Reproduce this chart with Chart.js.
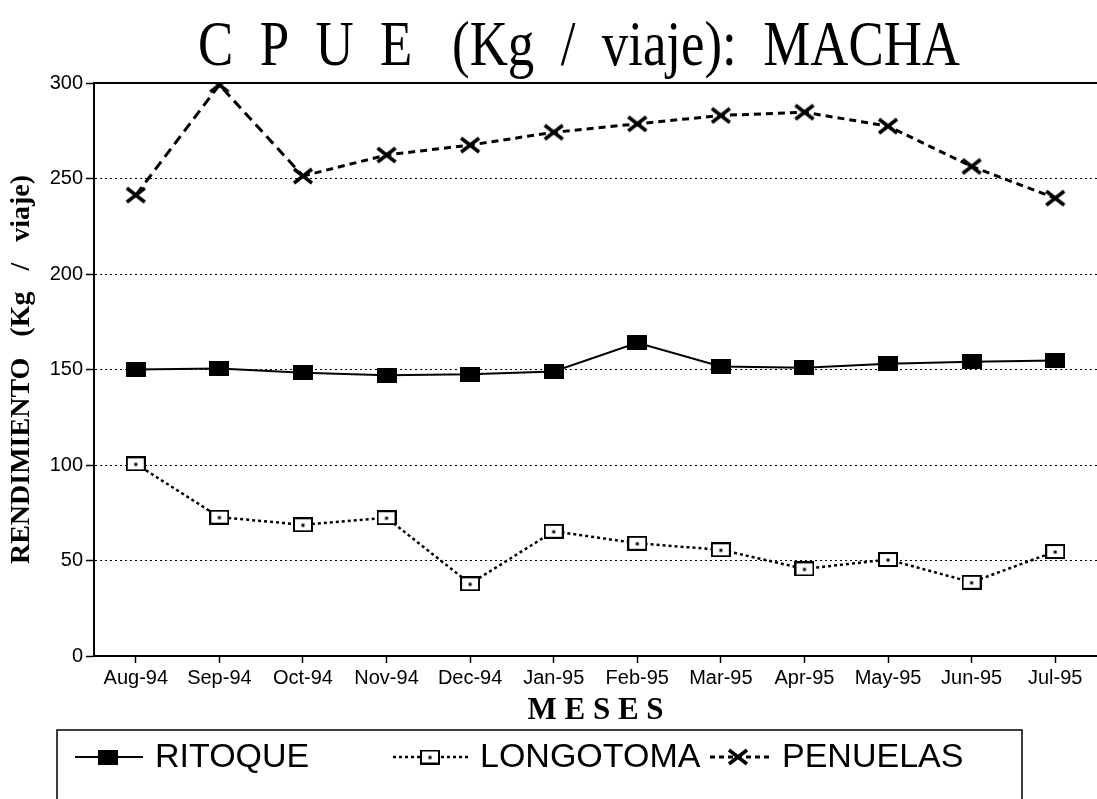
<!DOCTYPE html>
<html><head><meta charset="utf-8">
<script src="https://cdn.jsdelivr.net/npm/chart.js@4.4.1/dist/chart.umd.min.js"></script>
<style>html,body{margin:0;padding:0;background:#fff;}canvas{display:block;}</style>
</head><body>
<canvas id="c" width="1097" height="799"></canvas>
<script>
const months = ['Aug-94','Sep-94','Oct-94','Nov-94','Dec-94','Jan-95','Feb-95','Mar-95','Apr-95','May-95','Jun-95','Jul-95'];
const ritoque = [150, 150.5, 148.3, 147, 147.5, 149, 164, 151.6, 150.9, 153, 154, 154.7];
const longotoma = [100.6, 72.7, 68.7, 72.4, 37.8, 65.3, 59, 55.6, 45.6, 50.5, 38.6, 54.7];
const penuelas = [241.3, 299, 251.3, 262.3, 267.5, 274.2, 278.6, 283, 284.7, 277.4, 256.3, 239.7];
const seriesNames = ['RITOQUE', 'LONGOTOMA', 'PENUELAS'];
const yMin = 0, yMax = 300, yStep = 50;
const chartTitle = 'C  P  U  E   (Kg  /  viaje):  MACHA';
const yTitle = 'RENDIMIENTO   (Kg   /   viaje)';
const xTitle = 'M E S E S';

function mk(w, h, draw) { const c = document.createElement('canvas'); c.width = w; c.height = h; draw(c.getContext('2d'), w, h); return c; }
const sqFilled = mk(20, 15, (g, w, h) => { g.fillStyle = '#000'; g.fillRect(0, 0, w, h); });
const sqOpen = mk(20, 15, (g, w, h) => { g.fillStyle = '#fff'; g.fillRect(0, 0, w, h); g.strokeStyle = '#000'; g.lineWidth = 2; g.strokeRect(1, 1, w - 2, h - 2); g.fillStyle = '#000'; g.fillRect(w / 2 - 1.5, h / 2 - 1, 3, 3); });
const cross = mk(22, 18, (g, w, h) => { g.strokeStyle = '#000'; g.lineWidth = 3.5; g.beginPath(); g.moveTo(2, 2); g.lineTo(w - 2, h - 2); g.moveTo(w - 2, 2); g.lineTo(2, h - 2); g.stroke(); });

const titlePlugin = {
  id: 'condTitle',
  afterDraw(chart) {
    const g = chart.ctx; g.save();
    g.font = '64px "Liberation Serif"'; g.fillStyle = '#000'; g.textBaseline = 'alphabetic';
    const w = g.measureText(chartTitle).width;
    g.translate(198, 65); g.scale(762 / w, 1); g.fillText(chartTitle, 0, 0);
    g.restore();
  }
};
const framePlugin = {
  id: 'frame',
  afterDraw(chart) {
    const g = chart.ctx, a = chart.chartArea; g.save();
    g.strokeStyle = '#000'; g.lineWidth = 2;
    g.beginPath(); g.moveTo(a.left, a.top); g.lineTo(chart.width, a.top); g.stroke();
    g.restore();
  }
};
const legendPos = [{x1: 75, x2: 143, mx: 108, tx: 155}, {x1: 393, x2: 468, mx: 430, tx: 480}, {x1: 710, x2: 770, mx: 738, tx: 782}];
const legendPlugin = {
  id: 'boxLegend',
  afterDraw(chart) {
    const g = chart.ctx; g.save();
    g.strokeStyle = '#000'; g.lineWidth = 1.5; g.strokeRect(57, 730, 965, 100);
    chart.data.datasets.forEach((ds, i) => {
      const p = legendPos[i], y = 757;
      g.setLineDash(ds.legendDash || []); g.lineWidth = ds.borderWidth;
      g.beginPath(); g.moveTo(p.x1, y); g.lineTo(p.x2, y); g.stroke();
      g.setLineDash([]);
      const img = ds.pointStyle; g.drawImage(img, p.mx - img.width / 2, y - img.height / 2);
      g.fillStyle = '#000'; g.font = '34px "Liberation Sans"'; g.textBaseline = 'middle';
      g.fillText(ds.label, p.tx, y + 1);
    });
    g.restore();
  }
};

new Chart(document.getElementById('c'), {
  type: 'line',
  data: {
    labels: months,
    datasets: [
      {label: seriesNames[0], data: ritoque, borderColor: '#000', borderWidth: 2, pointStyle: sqFilled, pointRadius: 8, legendDash: []},
      {label: seriesNames[1], data: longotoma, borderColor: '#000', borderWidth: 2.5, borderDash: [3, 3], pointStyle: sqOpen, pointRadius: 8, legendDash: [3, 3]},
      {label: seriesNames[2], data: penuelas, borderColor: '#000', borderWidth: 3, pointStyle: cross, pointRadius: 8, legendDash: [5, 4],
        segment: {borderDash: c => c.p0DataIndex < 2 ? [10, 6] : [7, 5]}}
    ]
  },
  options: {
    responsive: false, animation: false, devicePixelRatio: 1,
    layout: {autoPadding: false, padding: {top: 83, right: 0, bottom: 69, left: 0}},
    plugins: {legend: {display: false}, title: {display: false}, tooltip: {enabled: false}},
    scales: {
      x: {
        offset: true,
        afterFit(s) { s.height = 74; s.paddingRight = 0; s.paddingLeft = 0; },
        grid: {drawOnChartArea: false, drawTicks: true, tickLength: 7, tickColor: '#000', tickWidth: 1.5},
        border: {display: true, color: '#000', width: 2},
        ticks: {color: '#000', font: {family: '"Liberation Sans"', size: 20}, padding: 3, maxRotation: 0, autoSkip: false},
        title: {display: true, text: xTitle, color: '#000', font: {family: '"Liberation Serif"', size: 31, weight: 'bold'}, padding: {top: 0, bottom: 0}}
      },
      y: {
        min: yMin, max: yMax,
        afterFit(s) { s.width = 94; },
        ticks: {stepSize: yStep, color: '#000', font: {family: '"Liberation Sans"', size: 20}, padding: 3},
        grid: {color: c => (c.tick && (c.tick.value === yMin || c.tick.value === yMax)) ? 'rgba(0,0,0,0)' : '#000', lineWidth: 1, tickLength: 8, tickColor: '#000', tickWidth: 1.5},
        border: {display: true, color: '#000', width: 2, dash: [2, 3]},
        title: {display: true, text: yTitle, color: '#000', font: {family: '"Liberation Serif"', size: 28, weight: 'bold'}, padding: {top: 5, bottom: 0}}
      }
    }
  },
  plugins: [titlePlugin, framePlugin, legendPlugin]
});
</script>
</body></html>
